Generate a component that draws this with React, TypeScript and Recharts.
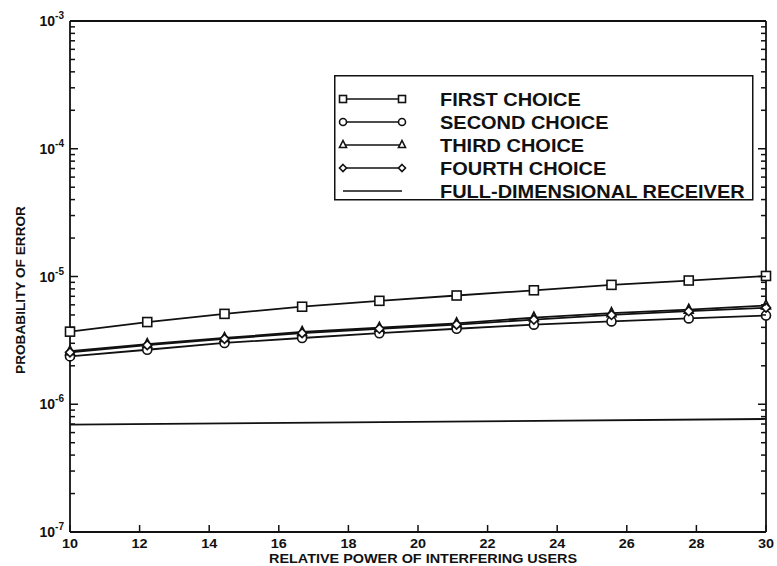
import {LineChart, Line, XAxis, YAxis, Legend} from 'recharts';

const powers = [10, 12.22, 14.44, 16.67, 18.89, 21.11, 23.33, 25.56, 27.78, 30];
const firstChoice = [3.7e-6, 4.4e-6, 5.1e-6, 5.8e-6, 6.45e-6, 7.1e-6, 7.8e-6, 8.6e-6, 9.3e-6, 1.01e-5];
const secondChoice = [2.37e-6, 2.67e-6, 3.02e-6, 3.3e-6, 3.6e-6, 3.9e-6, 4.2e-6, 4.45e-6, 4.7e-6, 4.95e-6];
const thirdChoice = [2.6e-6, 2.96e-6, 3.3e-6, 3.68e-6, 3.97e-6, 4.3e-6, 4.77e-6, 5.17e-6, 5.5e-6, 5.93e-6];
const fourthChoice = [2.55e-6, 2.9e-6, 3.25e-6, 3.6e-6, 3.9e-6, 4.2e-6, 4.6e-6, 5.0e-6, 5.35e-6, 5.7e-6];
const fullPowers = [10, 30];
const fullDimensional = [6.93e-7, 7.67e-7];

const xTicks = [10, 12, 14, 16, 18, 20, 22, 24, 26, 28, 30];
const decades = [1e-7, 1e-6, 1e-5, 1e-4, 1e-3];
const decadeLabels = ['-7', '-6', '-5', '-4', '-3'];
const minorSteps = [2, 3, 4, 5, 6, 7, 8, 9];

const yTicks = [
	...decades,
	...decades.slice(0, 4).flatMap((d) => minorSteps.map((m) => m * d)),
];

const data = powers.map((p, i) => ({
	power: p,
	first: firstChoice[i],
	second: secondChoice[i],
	third: thirdChoice[i],
	fourth: fourthChoice[i],
}));
const fullData = fullPowers.map((p, i) => ({power: p, full: fullDimensional[i]}));

const FONT = '"Liberation Sans", Arial, Helvetica, sans-serif';
const INK = '#111';
const STRETCH = 1.11; // the scanned lettering is wider than Arial

function decadeIndex(v: number) {
	return decades.findIndex((d) => Math.abs(v - d) / d < 1e-6);
}

function Marker({kind, cx, cy, r = 4.5}: {kind: string; cx: number; cy: number; r?: number}) {
	const common = {fill: '#fff', stroke: INK, strokeWidth: 1.6};
	if (kind === 'square') return <rect x={cx - r} y={cy - r} width={r * 2} height={r * 2} {...common}/>;
	if (kind === 'circle') return <circle cx={cx} cy={cy} r={r} {...common}/>;
	if (kind === 'triangle')
		return <polygon points={`${cx},${cy - r - 1} ${cx + r},${cy + r - 1} ${cx - r},${cy + r - 1}`} {...common}/>;
	if (kind === 'diamond')
		return <polygon points={`${cx},${cy - r} ${cx + r},${cy} ${cx},${cy + r} ${cx - r},${cy}`} {...common}/>;
	return null;
}

const dotOf = (kind: string) => (props: any) => {
	const {cx, cy, index} = props;
	if (cx == null || cy == null) return <g key={index}/>;
	return <Marker key={index} kind={kind} cx={cx} cy={cy}/>;
};

const LeftTick = (props: any) => {
	const {x, y, payload} = props;
	const idx = decadeIndex(payload.value);
	const major = idx >= 0;
	return (
		<g>
			<path d={`M${x},${y}h${major ? 8 : 5}`} stroke={INK} strokeWidth={1.5} fill="none"/>
			{major && (
				<text x={x - 6} y={y + 5} textAnchor="end" fontFamily={FONT} fontWeight="bold" fontSize={14} fill={INK}>
					<tspan>10</tspan>
					<tspan dy={-7} fontSize={10}>{decadeLabels[idx]}</tspan>
				</text>
			)}
		</g>
	);
};

const RightTick = (props: any) => {
	const {x, y, payload} = props;
	const major = decadeIndex(payload.value) >= 0;
	return <path d={`M${x},${y}h${major ? -8 : -5}`} stroke={INK} strokeWidth={1.5} fill="none"/>;
};

const BottomTick = (props: any) => {
	const {x, y, payload} = props;
	return (
		<g>
			<path d={`M${x},${y}v-7`} stroke={INK} strokeWidth={1.5} fill="none"/>
			<text
				transform={`translate(${x},${y + 16}) scale(${STRETCH},1)`}
				textAnchor="middle"
				fontFamily={FONT}
				fontWeight="bold"
				fontSize={13}
				fill={INK}
			>
				{payload.value}
			</text>
		</g>
	);
};

const TopTick = (props: any) => {
	const {x, y} = props;
	return <path d={`M${x},${y}v7`} stroke={INK} strokeWidth={1.5} fill="none"/>;
};

const legendRows = [
	{kind: 'square', label: 'FIRST CHOICE'},
	{kind: 'circle', label: 'SECOND CHOICE'},
	{kind: 'triangle', label: 'THIRD CHOICE'},
	{kind: 'diamond', label: 'FOURTH CHOICE'},
	{kind: 'none', label: 'FULL-DIMENSIONAL RECEIVER'},
];

function LegendBox() {
	return (
		<svg width={420} height={127} style={{display: 'block'}}>
			<rect x={0.75} y={0.75} width={418} height={124} fill="#fff" stroke={INK} strokeWidth={1.5}/>
			{legendRows.map((row, i) => {
				const cy = 24 + i * 23;
				return (
					<g key={row.label}>
						<line x1={9} x2={68} y1={cy} y2={cy} stroke={INK} strokeWidth={1.5}/>
						{row.kind !== 'none' && <Marker kind={row.kind} cx={9} cy={cy} r={3.5}/>}
						{row.kind !== 'none' && <Marker kind={row.kind} cx={68} cy={cy} r={3.5}/>}
						<text
							transform={`translate(106,${cy + 6.5}) scale(${STRETCH},1)`}
							fontFamily={FONT}
							fontWeight="bold"
							fontSize={18}
							fill={INK}
						>
							{row.label}
						</text>
					</g>
				);
			})}
		</svg>
	);
}

const axisLine = {stroke: INK, strokeWidth: 1.8};

export default function App() {
	return (
		<div style={{position: 'absolute', left: 0, top: 0, width: 777, height: 566, background: '#fff'}}>
			<LineChart width={777} height={566} margin={{top: 20, right: 10, left: 10, bottom: 0}}>
				<XAxis
					xAxisId="bottom"
					dataKey="power"
					type="number"
					domain={[10, 30]}
					ticks={xTicks}
					interval={0}
					height={34}
					tickSize={0}
					tickMargin={0}
					tick={BottomTick}
					tickLine={false}
					axisLine={axisLine}
					label={{
						content: () => (
							<text
								transform={`translate(423,563) scale(${STRETCH},1)`}
								textAnchor="middle"
								fontFamily={FONT}
								fontWeight="bold"
								fontSize={13}
								fill={INK}
							>
								RELATIVE POWER OF INTERFERING USERS
							</text>
						),
					}}
				/>
				<XAxis
					xAxisId="top"
					orientation="top"
					dataKey="power"
					type="number"
					domain={[10, 30]}
					ticks={xTicks}
					interval={0}
					height={1}
					tickSize={0}
					tickMargin={0}
					tick={TopTick}
					tickLine={false}
					axisLine={axisLine}
				/>
				<YAxis
					yAxisId="left"
					scale="log"
					type="number"
					domain={[1e-7, 1e-3]}
					ticks={yTicks}
					interval={0}
					width={60}
					tickSize={0}
					tickMargin={0}
					tick={LeftTick}
					tickLine={false}
					axisLine={axisLine}
					allowDataOverflow
					label={{
						content: () => (
							<text
								transform="translate(25,290) rotate(-90) scale(1.05,1)"
								textAnchor="middle"
								fontFamily={FONT}
								fontWeight="bold"
								fontSize={13}
								fill={INK}
							>
								PROBABILITY OF ERROR
							</text>
						),
					}}
				/>
				<YAxis
					yAxisId="right"
					orientation="right"
					scale="log"
					type="number"
					domain={[1e-7, 1e-3]}
					ticks={yTicks}
					interval={0}
					width={1}
					tickSize={0}
					tickMargin={0}
					tick={RightTick}
					tickLine={false}
					axisLine={axisLine}
					allowDataOverflow
				/>
				<Legend
					layout="vertical"
					align="center"
					verticalAlign="middle"
					content={() => <LegendBox/>}
					wrapperStyle={{left: 334, top: 75, width: 420, height: 127}}
				/>
				<Line xAxisId="bottom" yAxisId="left" data={data} dataKey="first" stroke={INK} strokeWidth={1.8}
					  dot={dotOf('square')} isAnimationActive={false}/>
				<Line xAxisId="bottom" yAxisId="left" data={data} dataKey="second" stroke={INK} strokeWidth={1.8}
					  dot={dotOf('circle')} isAnimationActive={false}/>
				<Line xAxisId="bottom" yAxisId="left" data={data} dataKey="third" stroke={INK} strokeWidth={1.8}
					  dot={dotOf('triangle')} isAnimationActive={false}/>
				<Line xAxisId="bottom" yAxisId="left" data={data} dataKey="fourth" stroke={INK} strokeWidth={1.8}
					  dot={dotOf('diamond')} isAnimationActive={false}/>
				<Line xAxisId="bottom" yAxisId="left" data={fullData} dataKey="full" stroke={INK} strokeWidth={1.8}
					  dot={false} isAnimationActive={false}/>
			</LineChart>
		</div>
	);
}
